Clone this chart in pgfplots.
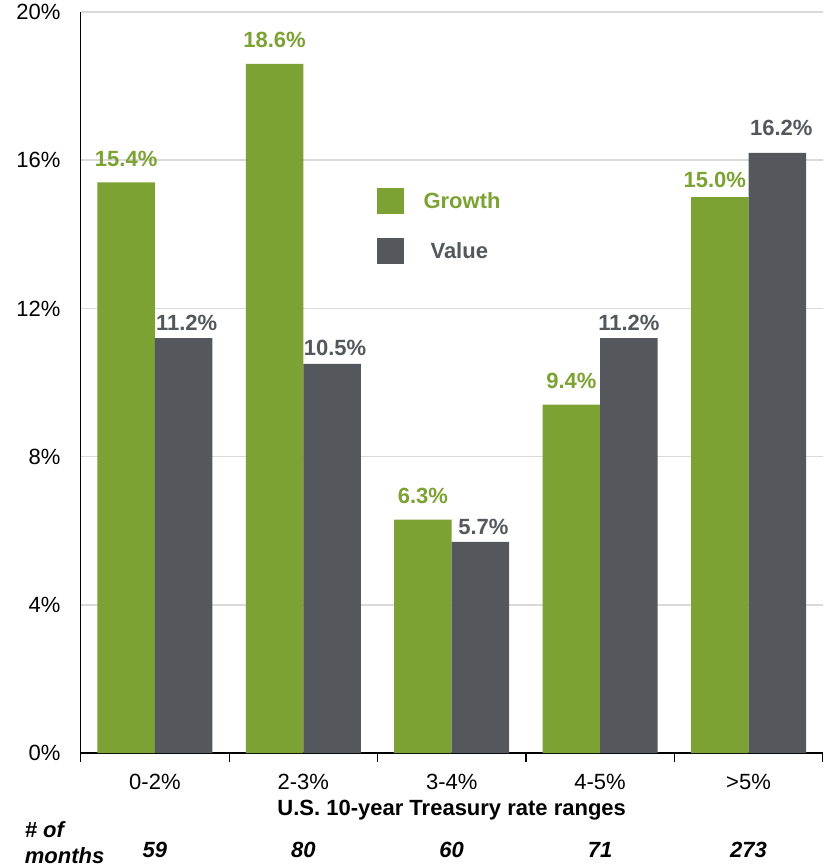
\documentclass[border=0pt]{standalone}
\usepackage{fontspec}
\setmainfont{Liberation Sans}
\usepackage{pgfplots}
\usepackage{pgfplotstable}
\pgfplotsset{compat=1.18}
\definecolor{growth}{HTML}{7BA232}
\definecolor{value}{HTML}{54585C}
\definecolor{gridgray}{HTML}{D9D9D9}

% x: category, y: return, dy/dx: label offset (pt)
\pgfplotstableread{
x y dy dx
0 15.4 16 0
1 18.6 16 0
2 6.3 16 0
3 9.4 16 0
4 15.0 10 -5
}\growthdata
\pgfplotstableread{
x y dy dx
0 11.2 8 3
1 10.5 8 3
2 5.7 7 3
3 11.2 8 0
4 16.2 17 4
}\valuedata

\begin{document}
\begin{tikzpicture}
\useasboundingbox (-80.7pt,-113pt) rectangle (748.3pt,753pt);
\begin{axis}[
  at={(0,0)}, anchor=south west,
  scale only axis, width=742pt, height=741pt,
  clip=false,
  xmin=-0.5, xmax=4.5, ymin=0, ymax=20,
  ybar=0pt, bar width=57.5pt,
  axis lines*=left,
  axis line style={black, line width=1.2pt},
  xtick={0,...,4},
  xticklabels={0-2\%,2-3\%,3-4\%,4-5\%,>5\%},
  minor xtick={-0.5,0.5,...,4.5},
  major tick length=0pt, minor tick length=9pt,
  tick align=outside,
  minor tick style={black, line width=1.2pt},
  ytick={0,4,...,20},
  yticklabels={0\%,4\%,8\%,12\%,16\%,20\%},
  ymajorgrids, grid style={gridgray, line width=1.5pt},
  tick label style={font=\fontsize{22}{26}\selectfont, inner sep=0pt},
  x tick label style={yshift=-21pt},
  y tick label style={xshift=-20pt},
  xlabel={\bfseries U.S. 10-year Treasury rate ranges},
  xlabel style={font=\fontsize{22}{26}\selectfont, at={(axis description cs:0.5,0)},
    anchor=center, inner sep=0pt, yshift=-57pt},
  /pgf/number format/assume math mode=true,
  visualization depends on={\thisrow{dy} \as \labdy},
  visualization depends on={\thisrow{dx} \as \labdx},
  nodes near coords={\pgfmathprintnumber[fixed,fixed zerofill,precision=1]{\pgfplotspointmeta}\%},
  nodes near coords align={center},
  legend style={at={(rel axis cs:0.3987,0.7625)}, anchor=north west,
    draw=none, fill=none, inner sep=0pt, outer sep=0pt,
    row sep=24pt, column sep=20pt,
    nodes={inner sep=0pt},
    font=\fontsize{22}{26}\selectfont\bfseries},
  legend cell align=left,
  legend image code/.code={\fill[#1] (0pt,-13pt) rectangle (27pt,13pt);},
]
\addplot[fill=growth, draw=none,
  nodes near coords style={font=\fontsize{22}{26}\selectfont\bfseries, text=growth,
    anchor=base, yshift=\labdy pt, xshift=\labdx pt, inner sep=0pt}]
  table[x=x, y=y] {\growthdata};
\addlegendentry{\textcolor{growth}{Growth}}
\addplot[fill=value, draw=none,
  nodes near coords style={font=\fontsize{22}{26}\selectfont\bfseries, text=value,
    anchor=base, yshift=\labdy pt, xshift=\labdx pt, inner sep=0pt}]
  table[x=x, y=y] {\valuedata};
\addlegendentry{\textcolor{value}{\hspace{7pt}Value}}

\node[anchor=base west, inner sep=0pt, font=\fontsize{22}{26}\selectfont\bfseries\itshape]
  at (rel axis cs:0,0) [xshift=-56pt, yshift=-84pt] {\#\ of};
\node[anchor=base west, inner sep=0pt, font=\fontsize{22}{26}\selectfont\bfseries\itshape]
  at (rel axis cs:0,0) [xshift=-56pt, yshift=-110pt] {months};
\foreach \i/\n in {0/59,1/80,2/60,3/71,4/273} {
  \edef\tmp{\noexpand\node[anchor=base, inner sep=0pt,
    font=\noexpand\fontsize{22}{26}\noexpand\selectfont\noexpand\bfseries\noexpand\itshape]
    at (axis cs:\i,0) [yshift=-104pt] {\n};}
  \tmp
}
\end{axis}
\end{tikzpicture}
\end{document}
